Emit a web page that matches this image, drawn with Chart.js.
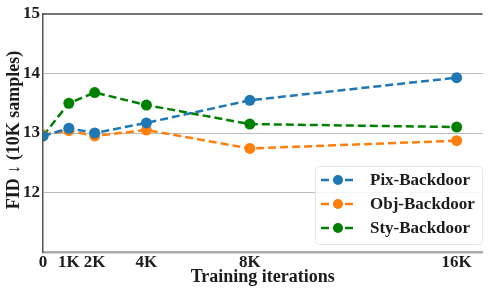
<!DOCTYPE html>
<html><head><meta charset="utf-8">
<script src="https://cdn.jsdelivr.net/npm/chart.js@4.4.0/dist/chart.umd.min.js"></script>
<style>html,body{margin:0;padding:0;background:#fff}#wrap{width:488px;height:288px}</style>
</head><body><div id="wrap"><canvas id="c" width="488" height="288"></canvas></div>
<script>
const iterations = [0, 1, 2, 4, 8, 16];
const tickLabels = {0:'0', 1:'1K', 2:'2K', 4:'4K', 8:'8K', 16:'16K'};
const seriesNames = ['Pix-Backdoor', 'Obj-Backdoor', 'Sty-Backdoor'];
const pixValues = [12.95, 13.08, 13.00, 13.17, 13.55, 13.93];
const objValues = [12.97, 13.04, 12.95, 13.05, 12.74, 12.87];
const styValues = [12.95, 13.50, 13.68, 13.47, 13.15, 13.10];
const yTicks = [12, 13, 14, 15];
const colors = ['#1f77b4', '#ff7f0e', '#008000'];
const FONT = '"Liberation Serif", "Times New Roman", serif';
const TXT = '#1c1c1c';

function mk(name, vals, col) {
  return {label: name, data: iterations.map((x, i) => ({x, y: vals[i]})),
    borderColor: col, backgroundColor: col, borderWidth: 2.5, borderDash: [8, 4],
    pointRadius: 5.5, pointHoverRadius: 5.5, pointBorderWidth: 0, tension: 0};
}

const deco = {
  id: 'deco',
  afterDraw(chart) {
    const {ctx, chartArea: a} = chart;
    ctx.save();
    ctx.strokeStyle = '#444'; ctx.lineWidth = 1.5;
    ctx.beginPath(); ctx.moveTo(a.left, a.top); ctx.lineTo(a.right, a.top); ctx.stroke();
    ctx.fillStyle = TXT;
    ctx.font = 'bold 18px ' + FONT;
    ctx.translate(14, 130); ctx.rotate(-Math.PI / 2);
    ctx.textAlign = 'center'; ctx.textBaseline = 'middle';
    ctx.fillText('FID \u2193 (10K samples)', 0, 0);
    ctx.restore();
    ctx.save();
    const bx = 315, by = 166, bw = 167, bh = 78;
    ctx.strokeStyle = '#e6e6e6'; ctx.lineWidth = 1; ctx.fillStyle = 'rgba(255,255,255,0.85)';
    ctx.beginPath(); ctx.roundRect(bx + 0.5, by + 0.5, bw, bh, 4); ctx.fill(); ctx.stroke();
    const ys = [180, 204, 228];
    ctx.font = 'bold 17px ' + FONT; ctx.textBaseline = 'middle'; ctx.textAlign = 'left';
    seriesNames.forEach((n, i) => {
      ctx.strokeStyle = colors[i]; ctx.lineWidth = 2.5; ctx.setLineDash([8, 4]);
      ctx.beginPath(); ctx.moveTo(321, ys[i]); ctx.lineTo(355, ys[i]); ctx.stroke();
      ctx.setLineDash([]);
      ctx.fillStyle = colors[i];
      ctx.beginPath(); ctx.arc(338, ys[i], 5, 0, Math.PI * 2); ctx.fill();
      ctx.fillStyle = TXT;
      ctx.fillText(n, 370, ys[i] + 1);
    });
    ctx.restore();
  }
};

new Chart(document.getElementById('c'), {
  type: 'line',
  data: {datasets: [mk(seriesNames[0], pixValues, colors[0]), mk(seriesNames[1], objValues, colors[1]), mk(seriesNames[2], styValues, colors[2])]},
  options: {
    responsive: false, animation: false, devicePixelRatio: 1,
    layout: {padding: {top: 14, right: 0, bottom: 0, left: 0}},
    plugins: {legend: {display: false}, tooltip: {enabled: false}},
    scales: {
      x: {type: 'linear', min: 0, max: 17,
        afterBuildTicks: s => { s.ticks = iterations.map(v => ({value: v})); },
        afterFit: s => { s.height = 36; },
        grid: {display: false, drawTicks: false},
        border: {color: '#aaa', width: 2.5},
        ticks: {color: TXT, padding: 0, maxRotation: 0, autoSkip: false, font: {family: FONT, size: 17, weight: 'bold'}, callback: v => tickLabels[v]},
        title: {display: true, text: 'Training iterations', color: TXT, padding: {top: -5, bottom: 0}, font: {family: FONT, size: 18, weight: 'bold'}}
      },
      y: {min: 11, max: 15,
        afterBuildTicks: s => { s.ticks = yTicks.map(v => ({value: v})); },
        afterFit: s => { s.width = 43; },
        grid: {drawTicks: false, color: c => (c.tick && c.tick.value === 15) ? 'rgba(0,0,0,0)' : '#bbb', lineWidth: 1, borderDash: [2, 2]},
        border: {color: '#555', width: 1.5, dash: []},
        ticks: {color: TXT, padding: 3, font: {family: FONT, size: 17, weight: 'bold'}}
      }
    }
  },
  plugins: [deco]
});
</script></body></html>
